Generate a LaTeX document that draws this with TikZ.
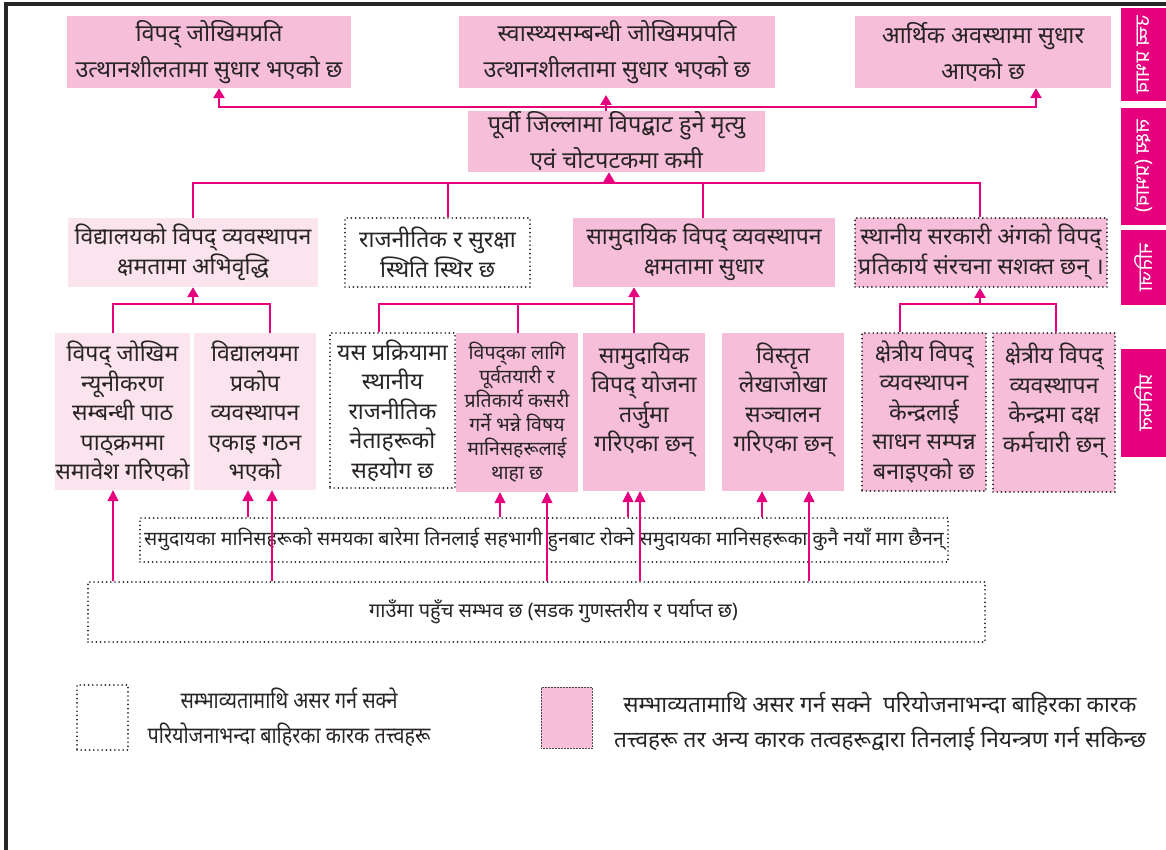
\documentclass[tikz,border=0pt]{standalone}
\usepackage{fontspec}
\newfontfamily\dev[Script=Devanagari]{Noto Sans}
\newfontfamily\devc[Script=Devanagari,FakeStretch=0.86]{Noto Sans}
\usetikzlibrary{arrows.meta}
\definecolor{mag}{RGB}{230,0,126}
\definecolor{pinkf}{RGB}{246,190,216}
\definecolor{lpink}{RGB}{251,228,238}
\definecolor{ink}{RGB}{40,36,38}
\newcommand{\bandtext}[1]{\scalebox{-1}[1]{\rotatebox{-90}{#1}}}
\tikzset{
  bx/.style={inner sep=0pt, align=center, text=ink},
  pinkbox/.style={bx, fill=pinkf},
  lpinkbox/.style={bx, fill=lpink},
  dotb/.style={draw=ink, dash pattern=on 0pt off 4.2pt, line cap=round, line width=1.9pt},
  fbig/.style={font=\dev\fontsize{23.5}{36}\selectfont},
  fmid/.style={font=\dev\fontsize{23}{30}\selectfont},
  fout/.style={font=\dev\fontsize{23}{29.5}\selectfont},
  fsm/.style={font=\dev\fontsize{19.5}{24}\selectfont},
  conn/.style={draw=mag, line width=2.6pt},
  arr/.style={draw=mag, line width=2.6pt, -{Triangle[width=11pt,length=10pt]}},
  thinarr/.style={draw=mag, line width=1.6pt, -{Triangle[width=11pt,length=11pt]}},
  band/.style={fill=mag, inner sep=0pt, minimum width=45pt, text=white, font=\dev\fontsize{20}{22}\selectfont},
}
\begin{document}
\begin{tikzpicture}[x=1pt,y=-1pt]
\useasboundingbox (0,0) rectangle (1166,850);
% frame
\draw[line width=4pt, black!85] (6,850) -- (6,4) -- (1166,4);
% side bands
\node[band, minimum height=93pt] (B1) at (1143.5,54.5) {\bandtext{उच्च प्रभाव}};
\node[band, minimum height=117pt] (B2) at (1143.5,166.5) {\bandtext{लक्ष्य (प्रभाव)}};
\node[band, minimum height=75pt] (B3) at (1143.5,267.5) {\bandtext{नतिजा}};
\node[band, minimum height=108pt] (B4) at (1143.5,403) {\bandtext{प्रतिफल}};
% top row
\node[pinkbox, fbig, minimum width=284pt, minimum height=72pt] (T1) at (209,52) {विपद् जोखिमप्रति\\उत्थानशीलतामा सुधार भएको छ};
\node[pinkbox, fbig, minimum width=316pt, minimum height=72pt] (T2) at (617,52) {स्वास्थ्यसम्बन्धी जोखिमप्रपति\\उत्थानशीलतामा सुधार भएको छ};
\node[pinkbox, fbig, minimum width=256pt, minimum height=72pt] (T3) at (983,52) {आर्थिक अवस्थामा सुधार\\आएको छ};
% goal
\node[pinkbox, fbig, minimum width=297pt, minimum height=61pt] (G) at (616.5,141.5) {पूर्वी जिल्लामा विपद्बाट हुने मृत्यु\\एवं चोटपटकमा कमी};
% outcomes
\node[lpinkbox, fmid, minimum width=250pt, minimum height=69pt] (O1) at (193,252.5) {विद्यालयको विपद् व्यवस्थापन\\क्षमतामा अभिवृद्धि};
\node[bx, dotb, fmid, minimum width=185pt, minimum height=69pt] (O2) at (437.5,252.5) {राजनीतिक र सुरक्षा\\स्थिति स्थिर छ};
\node[pinkbox, fmid, minimum width=262pt, minimum height=69pt] (O3) at (704,252.5) {सामुदायिक विपद् व्यवस्थापन\\क्षमतामा सुधार};
\node[pinkbox, dotb, fmid, minimum width=252pt, minimum height=69pt] (O4) at (981,252.5) {स्थानीय सरकारी अंगको विपद्\\प्रतिकार्य संरचना सशक्त छन् ।};
% outputs
\node[lpinkbox, fout, minimum width=135pt, minimum height=157pt] (P1) at (122.5,411.5) {विपद् जोखिम\\न्यूनीकरण\\सम्बन्धी पाठ\\पाठ्क्रममा\\समावेश गरिएको};
\node[lpinkbox, fout, minimum width=122pt, minimum height=157pt] (P2) at (255,411.5) {विद्यालयमा\\प्रकोप\\व्यवस्थापन\\एकाइ गठन\\भएको};
\node[bx, dotb, fout, minimum width=125pt, minimum height=155pt] (P3) at (392.5,410.5) {यस प्रक्रियामा\\स्थानीय\\राजनीतिक\\नेताहरूको\\सहयोग छ};
\node[pinkbox, fsm, minimum width=122pt, minimum height=159pt] (P4) at (517,412.5) {विपद्का लागि\\पूर्वतयारी र\\प्रतिकार्य कसरी\\गर्ने भन्ने विषय\\मानिसहरूलाई\\थाहा छ};
\node[pinkbox, fout, minimum width=122pt, minimum height=158pt] (P5) at (644,412) {सामुदायिक\\विपद् योजना\\तर्जुमा\\गरिएका छन्\\\mbox{}};
\node[pinkbox, fout, minimum width=122pt, minimum height=158pt] (P6) at (783,412) {विस्तृत\\लेखाजोखा\\सञ्चालन\\गरिएका छन्\\\mbox{}};
\node[pinkbox, dotb, fout, minimum width=124pt, minimum height=158pt] (P7) at (924,412) {क्षेत्रीय विपद्\\व्यवस्थापन\\केन्द्रलाई\\साधन सम्पन्न\\बनाइएको छ};
\node[pinkbox, dotb, fout, minimum width=122pt, minimum height=159pt] (P8) at (1054,412.5) {क्षेत्रीय विपद्\\व्यवस्थापन\\केन्द्रमा दक्ष\\कर्मचारी छन्\\\mbox{}};
% assumptions
\node[bx, dotb, font=\dev\fontsize{19.5}{22}\selectfont, minimum width=808pt, minimum height=44pt] (A1) at (544,540) {समुदायका मानिसहरूको समयका बारेमा तिनलाई सहभागी हुनबाट रोक्ने समुदायका मानिसहरूका कुनै नयाँ माग छैनन्};
\node[bx, dotb, font=\dev\fontsize{20}{22}\selectfont, minimum width=897pt, minimum height=60pt] (A2) at (536.5,612) {\hspace*{34pt}गाउँमा पहुँच सम्भव छ (सडक गुणस्तरीय र पर्याप्त छ)};
% legend
\node[bx, dotb, minimum width=51pt, minimum height=65pt] (L1) at (102.5,717.5) {};
\node[bx, font=\devc\fontsize{23}{35}\selectfont] (L1t) at (289,717.5) {सम्भाव्यतामाथि असर गर्न सक्ने\\परियोजनाभन्दा बाहिरका कारक तत्त्वहरू};
\node[bx, fill=pinkf, draw=black!70, densely dotted, line width=0.5pt, minimum width=51pt, minimum height=61pt] (L2) at (566.5,717.5) {};
\node[bx, font=\dev\fontsize{22.6}{35}\selectfont] (L2t) at (880,722) {सम्भाव्यतामाथि असर गर्न सक्ने\ \ परियोजनाभन्दा बाहिरका कारक\\तत्त्वहरू तर अन्य कारक तत्वहरूद्वारा तिनलाई नियन्त्रण गर्न सकिन्छ};
% junction coordinates
\coordinate (ja) at (219,107);
\coordinate (jb) at (1036,107);
\coordinate (jg) at (606,107);
\coordinate (jgt) at (606,95);
\coordinate (ka) at (193,183);
\coordinate (kb) at (448,183);
\coordinate (kc) at (703,183);
\coordinate (kd) at (980,183);
\coordinate (kg) at (609,183);
\coordinate (la) at (113,304);
\coordinate (lb) at (270,304);
\coordinate (lg) at (193,304);
\coordinate (ma) at (379,304);
\coordinate (mb) at (518,304);
\coordinate (mc) at (634,304);
\coordinate (na) at (900,304);
\coordinate (nb) at (1056,304);
\coordinate (ng) at (980,304);
% top connectors
\draw[conn, {Triangle[width=11pt,length=10pt]}-{Triangle[width=11pt,length=10pt]}] (ja |- T1.south) -- (ja) -- (jb) -- (jb |- T3.south);
\draw[conn] (G.north -| jg) -- (jg);
\draw[arr] (jg) -- (jgt);
% goal connectors
\draw[conn] (ka |- O1.north) -- (ka) -- (kd) -- (kd |- O4.north);
\draw[conn] (kb) -- (kb |- O2.north);
\draw[conn] (kc) -- (kc |- O3.north);
\draw[arr] (kg) -- (kg |- G.south);
% output group connectors
\draw[conn] (la |- P1.north) -- (la) -- (lb) -- (lb |- P2.north);
\draw[arr] (lg) -- (lg |- O1.south);
\draw[conn] (ma |- P3.north) -- (ma) -- (mc) -- (mc |- P5.north);
\draw[conn] (mb) -- (mb |- P4.north);
\draw[arr] (mc) -- (mc |- O3.south);
\draw[conn] (na |- P7.north) -- (na) -- (nb) -- (nb |- P8.north);
\draw[arr] (ng) -- (ng |- O4.south);
% assumption arrows
\foreach \x/\t in {113/P1, 272/P2, 547/P4, 640/P5, 809/P6}
  \draw[thinarr] (A2.north -| \x,0) -- (\t.south -| \x,0);
\foreach \x/\t in {248/P2, 500/P4, 628/P5, 762/P6}
  \draw[thinarr] (A1.north -| \x,0) -- (\t.south -| \x,0);
\end{tikzpicture}
\end{document}
